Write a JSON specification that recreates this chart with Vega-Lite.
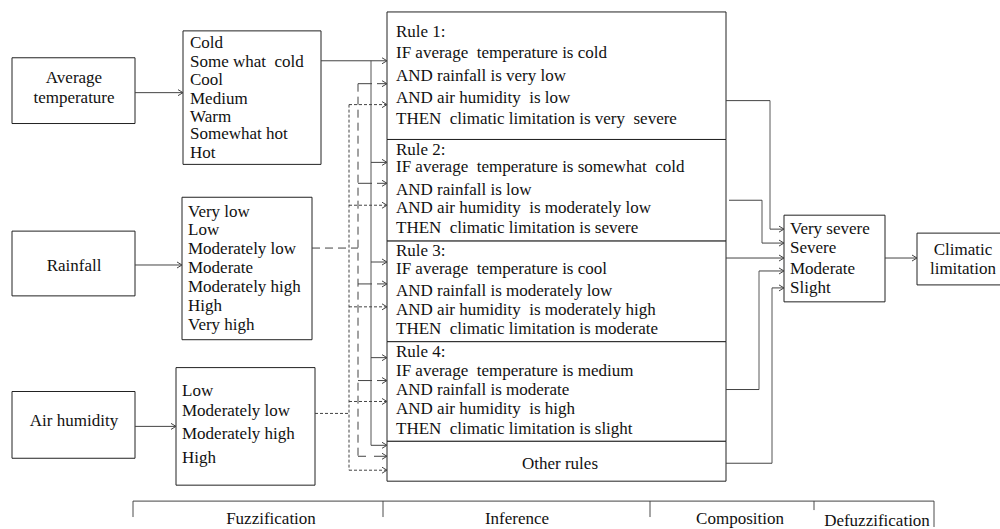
{
  "$schema": "https://vega.github.io/schema/vega-lite/v6.json",
  "width": 1000,
  "height": 529,
  "padding": 0,
  "autosize": {"type": "fit", "contains": "padding"},
  "background": "white",
  "config": {"view": {"stroke": null}},
  "datasets": {
    "boxes": [
      {"x": 12, "x2": 135, "y": 58, "y2": 124},
      {"x": 183, "x2": 321, "y": 31, "y2": 165},
      {"x": 12, "x2": 135, "y": 232, "y2": 297},
      {"x": 182, "x2": 312, "y": 198, "y2": 341},
      {"x": 12, "x2": 135, "y": 393, "y2": 460},
      {"x": 176, "x2": 315, "y": 369, "y2": 487},
      {"x": 387, "x2": 726, "y": 12, "y2": 140},
      {"x": 387, "x2": 726, "y": 140, "y2": 242},
      {"x": 387, "x2": 726, "y": 242, "y2": 343},
      {"x": 387, "x2": 726, "y": 343, "y2": 443},
      {"x": 387, "x2": 726, "y": 443, "y2": 483},
      {"x": 784, "x2": 885, "y": 216, "y2": 303},
      {"x": 917, "x2": 1010, "y": 234, "y2": 286}
    ],
    "segs": [
      {"x": 135, "y": 93, "x2": 183, "y2": 93, "s": "solid"},
      {"x": 135, "y": 266, "x2": 182, "y2": 266, "s": "solid"},
      {"x": 135, "y": 428, "x2": 176, "y2": 428, "s": "solid"},
      {"x": 321, "y": 61, "x2": 387, "y2": 61, "s": "solid"},
      {"x": 371, "y": 61, "x2": 371, "y2": 447, "s": "solid"},
      {"x": 371, "y": 163, "x2": 387, "y2": 163, "s": "solid"},
      {"x": 371, "y": 263, "x2": 387, "y2": 263, "s": "solid"},
      {"x": 371, "y": 359, "x2": 387, "y2": 359, "s": "solid"},
      {"x": 371, "y": 447, "x2": 387, "y2": 447, "s": "solid"},
      {"x": 358, "y": 84, "x2": 372, "y2": 84, "s": "solid"},
      {"x": 377, "y": 84, "x2": 387, "y2": 84, "s": "solid"},
      {"x": 358, "y": 184, "x2": 372, "y2": 184, "s": "solid"},
      {"x": 377, "y": 184, "x2": 387, "y2": 184, "s": "solid"},
      {"x": 358, "y": 285, "x2": 372, "y2": 285, "s": "solid"},
      {"x": 377, "y": 285, "x2": 387, "y2": 285, "s": "solid"},
      {"x": 358, "y": 382, "x2": 372, "y2": 382, "s": "solid"},
      {"x": 377, "y": 382, "x2": 387, "y2": 382, "s": "solid"},
      {"x": 358, "y": 458, "x2": 366, "y2": 458, "s": "solid"},
      {"x": 374, "y": 458, "x2": 387, "y2": 458, "s": "solid"},
      {"x": 312, "y": 249, "x2": 358, "y2": 249, "s": "dash"},
      {"x": 358, "y": 84, "x2": 358, "y2": 458, "s": "dash"},
      {"x": 315, "y": 415, "x2": 349, "y2": 415, "s": "dot"},
      {"x": 349, "y": 105, "x2": 349, "y2": 472, "s": "dot"},
      {"x": 349, "y": 105, "x2": 387, "y2": 105, "s": "dot"},
      {"x": 349, "y": 206, "x2": 387, "y2": 206, "s": "dot"},
      {"x": 349, "y": 308, "x2": 387, "y2": 308, "s": "dot"},
      {"x": 349, "y": 403, "x2": 387, "y2": 403, "s": "dot"},
      {"x": 349, "y": 472, "x2": 387, "y2": 472, "s": "dot"},
      {"x": 726, "y": 101, "x2": 770, "y2": 101, "s": "solid"},
      {"x": 770, "y": 101, "x2": 770, "y2": 230, "s": "solid"},
      {"x": 770, "y": 230, "x2": 784, "y2": 230, "s": "solid"},
      {"x": 729, "y": 201, "x2": 762, "y2": 201, "s": "solid"},
      {"x": 762, "y": 201, "x2": 762, "y2": 244, "s": "solid"},
      {"x": 762, "y": 244, "x2": 784, "y2": 244, "s": "solid"},
      {"x": 726, "y": 259, "x2": 784, "y2": 259, "s": "solid"},
      {"x": 726, "y": 391, "x2": 759, "y2": 391, "s": "solid"},
      {"x": 759, "y": 391, "x2": 759, "y2": 272, "s": "solid"},
      {"x": 759, "y": 272, "x2": 784, "y2": 272, "s": "solid"},
      {"x": 726, "y": 465, "x2": 772, "y2": 465, "s": "solid"},
      {"x": 772, "y": 465, "x2": 772, "y2": 289, "s": "solid"},
      {"x": 772, "y": 289, "x2": 784, "y2": 289, "s": "solid"},
      {"x": 885, "y": 259, "x2": 917, "y2": 259, "s": "solid"},
      {"x": 133, "y": 503, "x2": 934, "y2": 503, "s": "solid"},
      {"x": 133, "y": 503, "x2": 133, "y2": 519, "s": "solid"},
      {"x": 383, "y": 503, "x2": 383, "y2": 519, "s": "solid"},
      {"x": 650, "y": 503, "x2": 650, "y2": 519, "s": "solid"},
      {"x": 814, "y": 503, "x2": 814, "y2": 512, "s": "solid"},
      {"x": 934, "y": 503, "x2": 934, "y2": 529, "s": "solid"}
    ],
    "arrows": [
      {"x": 183, "y": 93}, {"x": 182, "y": 266}, {"x": 176, "y": 428},
      {"x": 387, "y": 61}, {"x": 387, "y": 163}, {"x": 387, "y": 263}, {"x": 387, "y": 359}, {"x": 387, "y": 447},
      {"x": 387, "y": 84}, {"x": 387, "y": 184}, {"x": 387, "y": 285}, {"x": 387, "y": 382}, {"x": 387, "y": 458},
      {"x": 387, "y": 105}, {"x": 387, "y": 206}, {"x": 387, "y": 308}, {"x": 387, "y": 403}, {"x": 387, "y": 472},
      {"x": 784, "y": 230}, {"x": 784, "y": 244}, {"x": 784, "y": 259}, {"x": 784, "y": 272}, {"x": 784, "y": 289},
      {"x": 917, "y": 259}
    ],
    "ltext": [
      {"x": 190, "y": 43, "t": "Cold"},
      {"x": 190, "y": 62, "t": "Some what\u00a0 cold"},
      {"x": 190, "y": 80, "t": "Cool"},
      {"x": 190, "y": 99, "t": "Medium"},
      {"x": 190, "y": 117, "t": "Warm"},
      {"x": 190, "y": 135, "t": "Somewhat hot"},
      {"x": 190, "y": 154, "t": "Hot"},
      {"x": 188, "y": 213, "t": "Very low"},
      {"x": 188, "y": 231, "t": "Low"},
      {"x": 188, "y": 250, "t": "Moderately low"},
      {"x": 188, "y": 269, "t": "Moderate"},
      {"x": 188, "y": 288, "t": "Moderately high"},
      {"x": 188, "y": 307, "t": "High"},
      {"x": 188, "y": 326, "t": "Very high"},
      {"x": 182, "y": 392, "t": "Low"},
      {"x": 182, "y": 413, "t": "Moderately low"},
      {"x": 182, "y": 436, "t": "Moderately high"},
      {"x": 182, "y": 460, "t": "High"},
      {"x": 396, "y": 32, "t": "Rule 1:"},
      {"x": 396, "y": 53, "t": "IF average\u00a0 temperature is cold"},
      {"x": 396, "y": 76, "t": "AND rainfall is very low"},
      {"x": 396, "y": 98, "t": "AND air humidity\u00a0 is low"},
      {"x": 396, "y": 119, "t": "THEN\u00a0 climatic limitation is very\u00a0 severe"},
      {"x": 396, "y": 151, "t": "Rule 2:"},
      {"x": 396, "y": 168, "t": "IF average\u00a0 temperature is somewhat\u00a0 cold"},
      {"x": 396, "y": 191, "t": "AND rainfall is low"},
      {"x": 396, "y": 209, "t": "AND air humidity\u00a0 is moderately low"},
      {"x": 396, "y": 229, "t": "THEN\u00a0 climatic limitation is severe"},
      {"x": 396, "y": 252, "t": "Rule 3:"},
      {"x": 396, "y": 270, "t": "IF average\u00a0 temperature is cool"},
      {"x": 396, "y": 292, "t": "AND rainfall is moderately low"},
      {"x": 396, "y": 311, "t": "AND air humidity\u00a0 is moderately high"},
      {"x": 396, "y": 330, "t": "THEN\u00a0 climatic limitation is moderate"},
      {"x": 396, "y": 353, "t": "Rule 4:"},
      {"x": 396, "y": 372, "t": "IF average\u00a0 temperature is medium"},
      {"x": 396, "y": 391, "t": "AND rainfall is moderate"},
      {"x": 396, "y": 411, "t": "AND air humidity\u00a0 is high"},
      {"x": 396, "y": 431, "t": "THEN\u00a0 climatic limitation is slight"},
      {"x": 790, "y": 230, "t": "Very severe"},
      {"x": 790, "y": 249, "t": "Severe"},
      {"x": 790, "y": 270, "t": "Moderate"},
      {"x": 790, "y": 289, "t": "Slight"}
    ],
    "ctext": [
      {"x": 74, "y": 78, "t": "Average"},
      {"x": 74, "y": 98, "t": "temperature"},
      {"x": 74, "y": 267, "t": "Rainfall"},
      {"x": 74, "y": 423, "t": "Air humidity"},
      {"x": 560, "y": 466, "t": "Other rules"},
      {"x": 963, "y": 251, "t": "Climatic"},
      {"x": 963, "y": 270, "t": "limitation"},
      {"x": 271, "y": 521, "t": "Fuzzification"},
      {"x": 517, "y": 521, "t": "Inference"},
      {"x": 740, "y": 521, "t": "Composition"},
      {"x": 877, "y": 523, "t": "Defuzzification"}
    ]
  },
  "layer": [
    {
      "data": {"name": "boxes"},
      "mark": {"type": "rect", "fill": "white", "stroke": "#222", "strokeWidth": 1, "clip": true},
      "encoding": {
        "x": {"field": "x", "type": "quantitative", "scale": {"domain": [0, 1000], "nice": false, "zero": false}, "axis": null},
        "x2": {"field": "x2"},
        "y": {"field": "y", "type": "quantitative", "scale": {"domain": [0, 529], "nice": false, "zero": false, "reverse": true}, "axis": null},
        "y2": {"field": "y2"}
      }
    },
    {
      "data": {"name": "segs"},
      "mark": {"type": "rule", "color": "#444", "strokeWidth": 1},
      "encoding": {
        "x": {"field": "x", "type": "quantitative", "axis": null},
        "x2": {"field": "x2"},
        "y": {"field": "y", "type": "quantitative", "axis": null},
        "y2": {"field": "y2"},
        "strokeDash": {"field": "s", "type": "nominal", "scale": {"domain": ["solid", "dash", "dot"], "range": [[1, 0], [8, 5], [3, 2]]}, "legend": null}
      }
    },
    {
      "data": {"name": "arrows"},
      "mark": {"type": "point", "shape": "M-1,-0.6L0,0L-1,0.6", "filled": false, "stroke": "#444", "strokeWidth": 1, "size": 100, "opacity": 1},
      "encoding": {
        "x": {"field": "x", "type": "quantitative", "axis": null},
        "y": {"field": "y", "type": "quantitative", "axis": null}
      }
    },
    {
      "data": {"name": "ltext"},
      "mark": {"type": "text", "align": "left", "baseline": "middle", "font": "Liberation Serif", "fontSize": 17, "color": "#111"},
      "encoding": {
        "x": {"field": "x", "type": "quantitative", "axis": null},
        "y": {"field": "y", "type": "quantitative", "axis": null},
        "text": {"field": "t"}
      }
    },
    {
      "data": {"name": "ctext"},
      "mark": {"type": "text", "align": "center", "baseline": "middle", "font": "Liberation Serif", "fontSize": 17, "color": "#111"},
      "encoding": {
        "x": {"field": "x", "type": "quantitative", "axis": null},
        "y": {"field": "y", "type": "quantitative", "axis": null},
        "text": {"field": "t"}
      }
    }
  ]
}
